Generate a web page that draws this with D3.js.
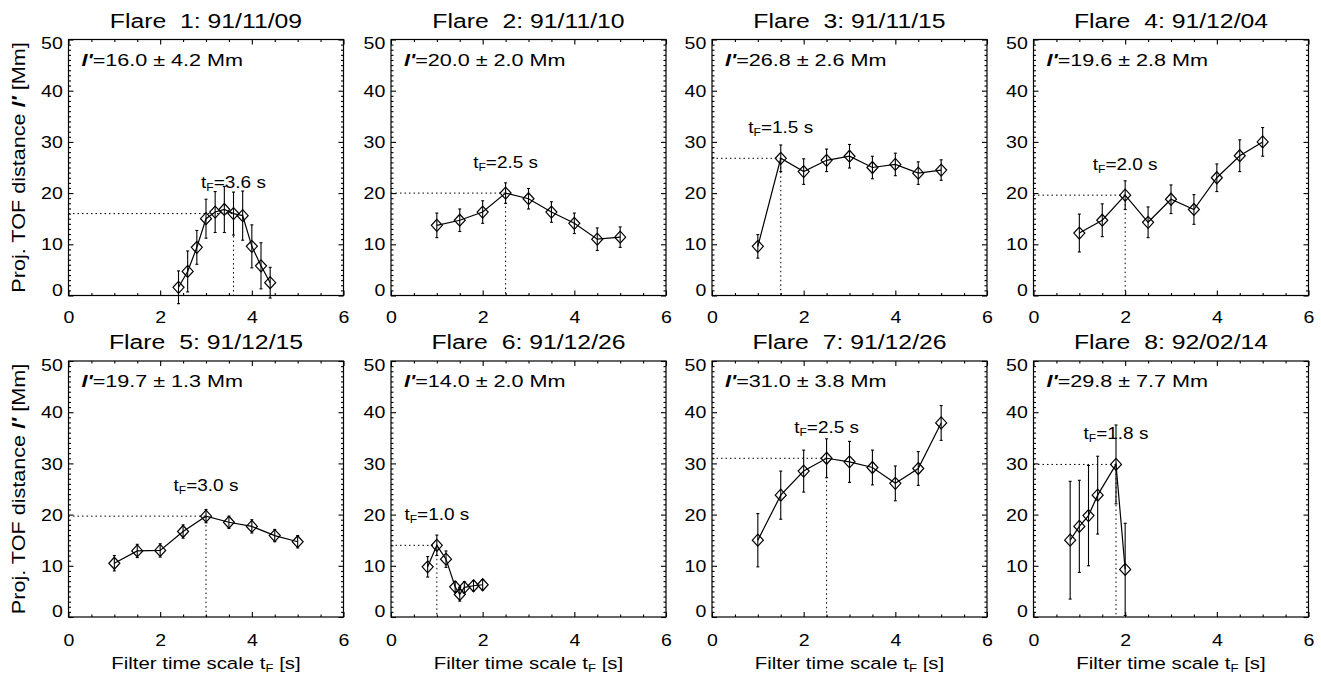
<!DOCTYPE html>
<html>
<head>
<meta charset="utf-8">
<script src="https://cdn.jsdelivr.net/npm/d3@7"></script>
<style>
  html, body { margin: 0; padding: 0; background: #fff; }
  svg { display: block; }
  text { font-family: "Liberation Sans", Arial, Helvetica, sans-serif; fill: #000; }
</style>
</head>
<body>
<svg id="chart" width="1321" height="675"></svg>
<script>
// ---- Flare list ----
const flareNumbers = [1, 2, 3, 4, 5, 6, 7, 8];
const flareDates = ["91/11/09", "91/11/10", "91/11/15", "91/12/04",
                    "91/12/15", "91/12/26", "91/12/26", "92/02/14"];

// ---- Projected TOF distance l' [Mm] versus filter time scale tF [s] ----
const flare1Time = [2.4, 2.6, 2.8, 3.0, 3.2, 3.4, 3.6, 3.8, 4.0, 4.2, 4.4];
const flare1Dist = [1.6, 4.7, 9.4, 15.0, 16.3, 16.8, 16.0, 15.6, 9.6, 5.8, 2.5];
const flare1Err  = [3.2, 4.0, 3.3, 3.8, 4.0, 4.5, 4.2, 4.8, 4.2, 4.5, 3.0];

const flare2Time = [1.0, 1.5, 2.0, 2.5, 3.0, 3.5, 4.0, 4.5, 5.0];
const flare2Dist = [13.7, 14.7, 16.3, 20.0, 18.9, 16.3, 14.1, 11.0, 11.4];
const flare2Err  = [2.4, 2.2, 2.2, 2.0, 2.0, 2.0, 2.0, 2.2, 2.0];

const flare3Time = [1.0, 1.5, 2.0, 2.5, 3.0, 3.5, 4.0, 4.5, 5.0];
const flare3Dist = [9.6, 26.8, 24.2, 26.4, 27.2, 25.0, 25.6, 23.9, 24.5];
const flare3Err  = [2.3, 2.6, 2.5, 2.2, 2.3, 2.2, 2.2, 2.2, 2.0];

const flare4Time = [1.0, 1.5, 2.0, 2.5, 3.0, 3.5, 4.0, 4.5, 5.0];
const flare4Dist = [12.2, 14.7, 19.6, 14.3, 18.8, 16.8, 23.0, 27.3, 30.0];
const flare4Err  = [3.7, 3.2, 2.8, 3.0, 2.8, 2.9, 2.7, 3.1, 2.8];

const flare5Time = [1.0, 1.5, 2.0, 2.5, 3.0, 3.5, 4.0, 4.5, 5.0];
const flare5Dist = [10.5, 12.9, 13.0, 16.7, 19.7, 18.5, 17.7, 15.9, 14.7];
const flare5Err  = [1.5, 1.3, 1.3, 1.3, 1.3, 1.2, 1.3, 1.2, 1.2];

const flare6Time = [0.8, 1.0, 1.2, 1.4, 1.5, 1.6, 1.8, 2.0];
const flare6Dist = [9.8, 14.0, 11.3, 5.9, 4.4, 5.8, 6.1, 6.3];
const flare6Err  = [2.0, 2.0, 1.6, 1.0, 1.3, 1.1, 1.0, 1.0];

const flare7Time = [1.0, 1.5, 2.0, 2.5, 3.0, 3.5, 4.0, 4.5, 5.0];
const flare7Dist = [15.0, 23.8, 28.5, 31.0, 30.3, 29.2, 26.1, 29.0, 37.9];
const flare7Err  = [5.2, 4.7, 4.1, 3.8, 4.0, 3.4, 3.4, 3.3, 3.4];

const flare8Time = [0.8, 1.0, 1.2, 1.4, 1.8, 2.0];
const flare8Dist = [15.0, 17.7, 19.8, 23.8, 29.8, 9.3];
const flare8Err  = [11.5, 9.0, 9.8, 7.6, 7.7, 9.0];

// ---- Selected filter time scale and resulting distance per flare ----
const bestTime = [3.6, 2.5, 1.5, 2.0, 3.0, 1.0, 2.5, 1.8];
const bestDist = [16.0, 20.0, 26.8, 19.6, 19.7, 14.0, 31.0, 29.8];
const bestErr  = [4.2, 2.0, 2.6, 2.8, 1.3, 2.0, 3.8, 7.7];

// ---- Axis ticks ----
const xTickValues = [0, 2, 4, 6];
const yTickValues = [0, 10, 20, 30, 40, 50];

const series = [
  [flare1Time, flare1Dist, flare1Err], [flare2Time, flare2Dist, flare2Err],
  [flare3Time, flare3Dist, flare3Err], [flare4Time, flare4Dist, flare4Err],
  [flare5Time, flare5Dist, flare5Err], [flare6Time, flare6Dist, flare6Err],
  [flare7Time, flare7Dist, flare7Err], [flare8Time, flare8Dist, flare8Err]
];

// ---- Layout ----
const panelLeft = [68.5, 391, 712, 1033.5];
const rowTop = [39.5, 361];
const panelWidth = 275, panelHeight = 256;
const tickLabelPad = [15, 17];

const x = d3.scaleLinear().domain([0, 6]).range([0, panelWidth]);
const y = d3.scaleLinear().domain([0, 50]).range([panelHeight, 0]);

const xMinor = d3.range(0, 6.01, 0.5).filter(v => !xTickValues.includes(v));
const yMinor = d3.range(0, 51, 1).filter(v => !yTickValues.includes(v));

const svg = d3.select("#chart");
svg.append("rect").attr("width", 1321).attr("height", 675).attr("fill", "#fff");

// Text with horizontal stretch to mimic the wide Helvetica of the plot device
function stretchedText(g, px, py, size, stretch, anchor, rotate) {
  const rot = rotate ? ` rotate(${rotate})` : "";
  return g.append("text")
    .attr("transform", `translate(${px},${py})${rot} scale(${stretch},1)`)
    .attr("font-size", size)
    .attr("text-anchor", anchor)
    .style("white-space", "pre");
}

function styleAxis(sel, stretch) {
  sel.select(".domain").remove();
  sel.selectAll("line").attr("stroke", "#000").attr("stroke-width", 1.1);
  sel.selectAll("text")
    .attr("font-size", 17)
    .attr("fill", "#000")
    .attr("font-family", "Liberation Sans, Arial, sans-serif")
    .attr("transform", `scale(${stretch},1)`);
}

series.forEach((s, i) => {
  const row = Math.floor(i / 4), col = i % 4;
  const g = svg.append("g")
    .attr("transform", `translate(${panelLeft[col]},${rowTop[row]})`);

  const pts = s[0].map((t, k) => ({ t: t, l: s[1][k], e: s[2][k] }));

  // axes: major + minor ticks, mirrored on top and right
  g.append("g").attr("transform", `translate(0,${panelHeight})`)
    .call(d3.axisBottom(x).tickValues(xTickValues).tickSize(-5)
      .tickPadding(tickLabelPad[row]).tickFormat(d3.format("d")))
    .call(a => styleAxis(a, 1.15));
  g.append("g").attr("transform", `translate(0,${panelHeight})`)
    .call(d3.axisBottom(x).tickValues(xMinor).tickSize(-2.5).tickFormat(""))
    .call(a => styleAxis(a, 1));
  g.append("g")
    .call(d3.axisTop(x).tickValues(xTickValues).tickSize(-5).tickFormat(""))
    .call(a => styleAxis(a, 1));
  g.append("g")
    .call(d3.axisTop(x).tickValues(xMinor).tickSize(-2.5).tickFormat(""))
    .call(a => styleAxis(a, 1));

  const yAx = g.append("g")
    .call(d3.axisLeft(y).tickValues(yTickValues).tickSize(-5)
      .tickPadding(5).tickFormat(d3.format("d")))
    .call(a => styleAxis(a, 1.15));
  yAx.selectAll("text").attr("dy", d => d === 0 ? "-0.02em" : d === 50 ? "0.55em" : "0.33em");
  g.append("g")
    .call(d3.axisLeft(y).tickValues(yMinor).tickSize(-2.5).tickFormat(""))
    .call(a => styleAxis(a, 1));
  g.append("g").attr("transform", `translate(${panelWidth},0)`)
    .call(d3.axisRight(y).tickValues(yTickValues).tickSize(-5).tickFormat(""))
    .call(a => styleAxis(a, 1));
  g.append("g").attr("transform", `translate(${panelWidth},0)`)
    .call(d3.axisRight(y).tickValues(yMinor).tickSize(-2.5).tickFormat(""))
    .call(a => styleAxis(a, 1));

  g.append("rect")
    .attr("width", panelWidth).attr("height", panelHeight)
    .attr("fill", "none").attr("stroke", "#000").attr("stroke-width", 1.2);

  // dotted guides at the selected filter time scale
  const bt = bestTime[i], bd = bestDist[i];
  g.append("line")
    .attr("x1", x(0)).attr("x2", x(bt)).attr("y1", y(bd)).attr("y2", y(bd))
    .attr("stroke", "#000").attr("stroke-width", 1).attr("stroke-dasharray", "1.5,3");
  g.append("line")
    .attr("x1", x(bt)).attr("x2", x(bt)).attr("y1", y(bd)).attr("y2", y(0))
    .attr("stroke", "#000").attr("stroke-width", 1).attr("stroke-dasharray", "1.5,3");

  // error bars
  const eb = g.append("g").attr("stroke", "#000").attr("stroke-width", 1.1);
  eb.selectAll("line.bar").data(pts).join("line").attr("class", "bar")
    .attr("x1", d => x(d.t)).attr("x2", d => x(d.t))
    .attr("y1", d => y(d.l - d.e)).attr("y2", d => y(d.l + d.e));
  eb.selectAll("line.capLo").data(pts).join("line").attr("class", "capLo")
    .attr("x1", d => x(d.t) - 1.5).attr("x2", d => x(d.t) + 1.5)
    .attr("y1", d => y(d.l - d.e)).attr("y2", d => y(d.l - d.e));
  eb.selectAll("line.capHi").data(pts).join("line").attr("class", "capHi")
    .attr("x1", d => x(d.t) - 1.5).attr("x2", d => x(d.t) + 1.5)
    .attr("y1", d => y(d.l + d.e)).attr("y2", d => y(d.l + d.e));

  // connecting line
  g.append("path").datum(pts)
    .attr("fill", "none").attr("stroke", "#000").attr("stroke-width", 1.2)
    .attr("d", d3.line().x(d => x(d.t)).y(d => y(d.l)));

  // open diamond markers
  g.selectAll("path.mark").data(pts).join("path").attr("class", "mark")
    .attr("transform", d => `translate(${x(d.t)},${y(d.l)})`)
    .attr("d", "M0,-6L5.5,0L0,6L-5.5,0Z")
    .attr("fill", "none").attr("stroke", "#000").attr("stroke-width", 1.2);

  // tF label above the selected point
  const tl = stretchedText(g, x(bt), y(bd + 5), 16.5, 1.15, "middle");
  tl.append("tspan").text("t");
  tl.append("tspan").attr("font-size", 10.5).attr("dy", 3).text("F");
  tl.append("tspan").attr("dy", -3).text(`=${d3.format(".1f")(bt)} s`);

  // distance annotation
  const an = stretchedText(g, 13, 26, 17, 1.27, "start");
  an.append("tspan").attr("font-style", "italic").attr("font-weight", "bold").text("l'");
  an.append("tspan").text(`=${d3.format(".1f")(bd)} ± ${d3.format(".1f")(bestErr[i])} Mm`);

  // title
  stretchedText(g, panelWidth / 2, -12, 21, 1.18, "middle")
    .text(`Flare  ${flareNumbers[i]}: ${flareDates[i]}`);

  // axis titles on the outer panels
  if (col === 0) {
    const yt = stretchedText(g, -44, panelHeight / 2, 18, 1.2, "middle", -90);
    yt.append("tspan").text("Proj. TOF distance ");
    yt.append("tspan").attr("font-style", "italic").attr("font-weight", "bold").text("l'");
    yt.append("tspan").text(" [Mm]");
  }
  if (row === 1) {
    const xt = stretchedText(g, panelWidth / 2, panelHeight + 52, 17, 1.2, "middle");
    xt.append("tspan").text("Filter time scale t");
    xt.append("tspan").attr("font-size", 11).attr("dy", 3).text("F");
    xt.append("tspan").attr("dy", -3).text(" [s]");
  }
});
</script>
</body>
</html>
